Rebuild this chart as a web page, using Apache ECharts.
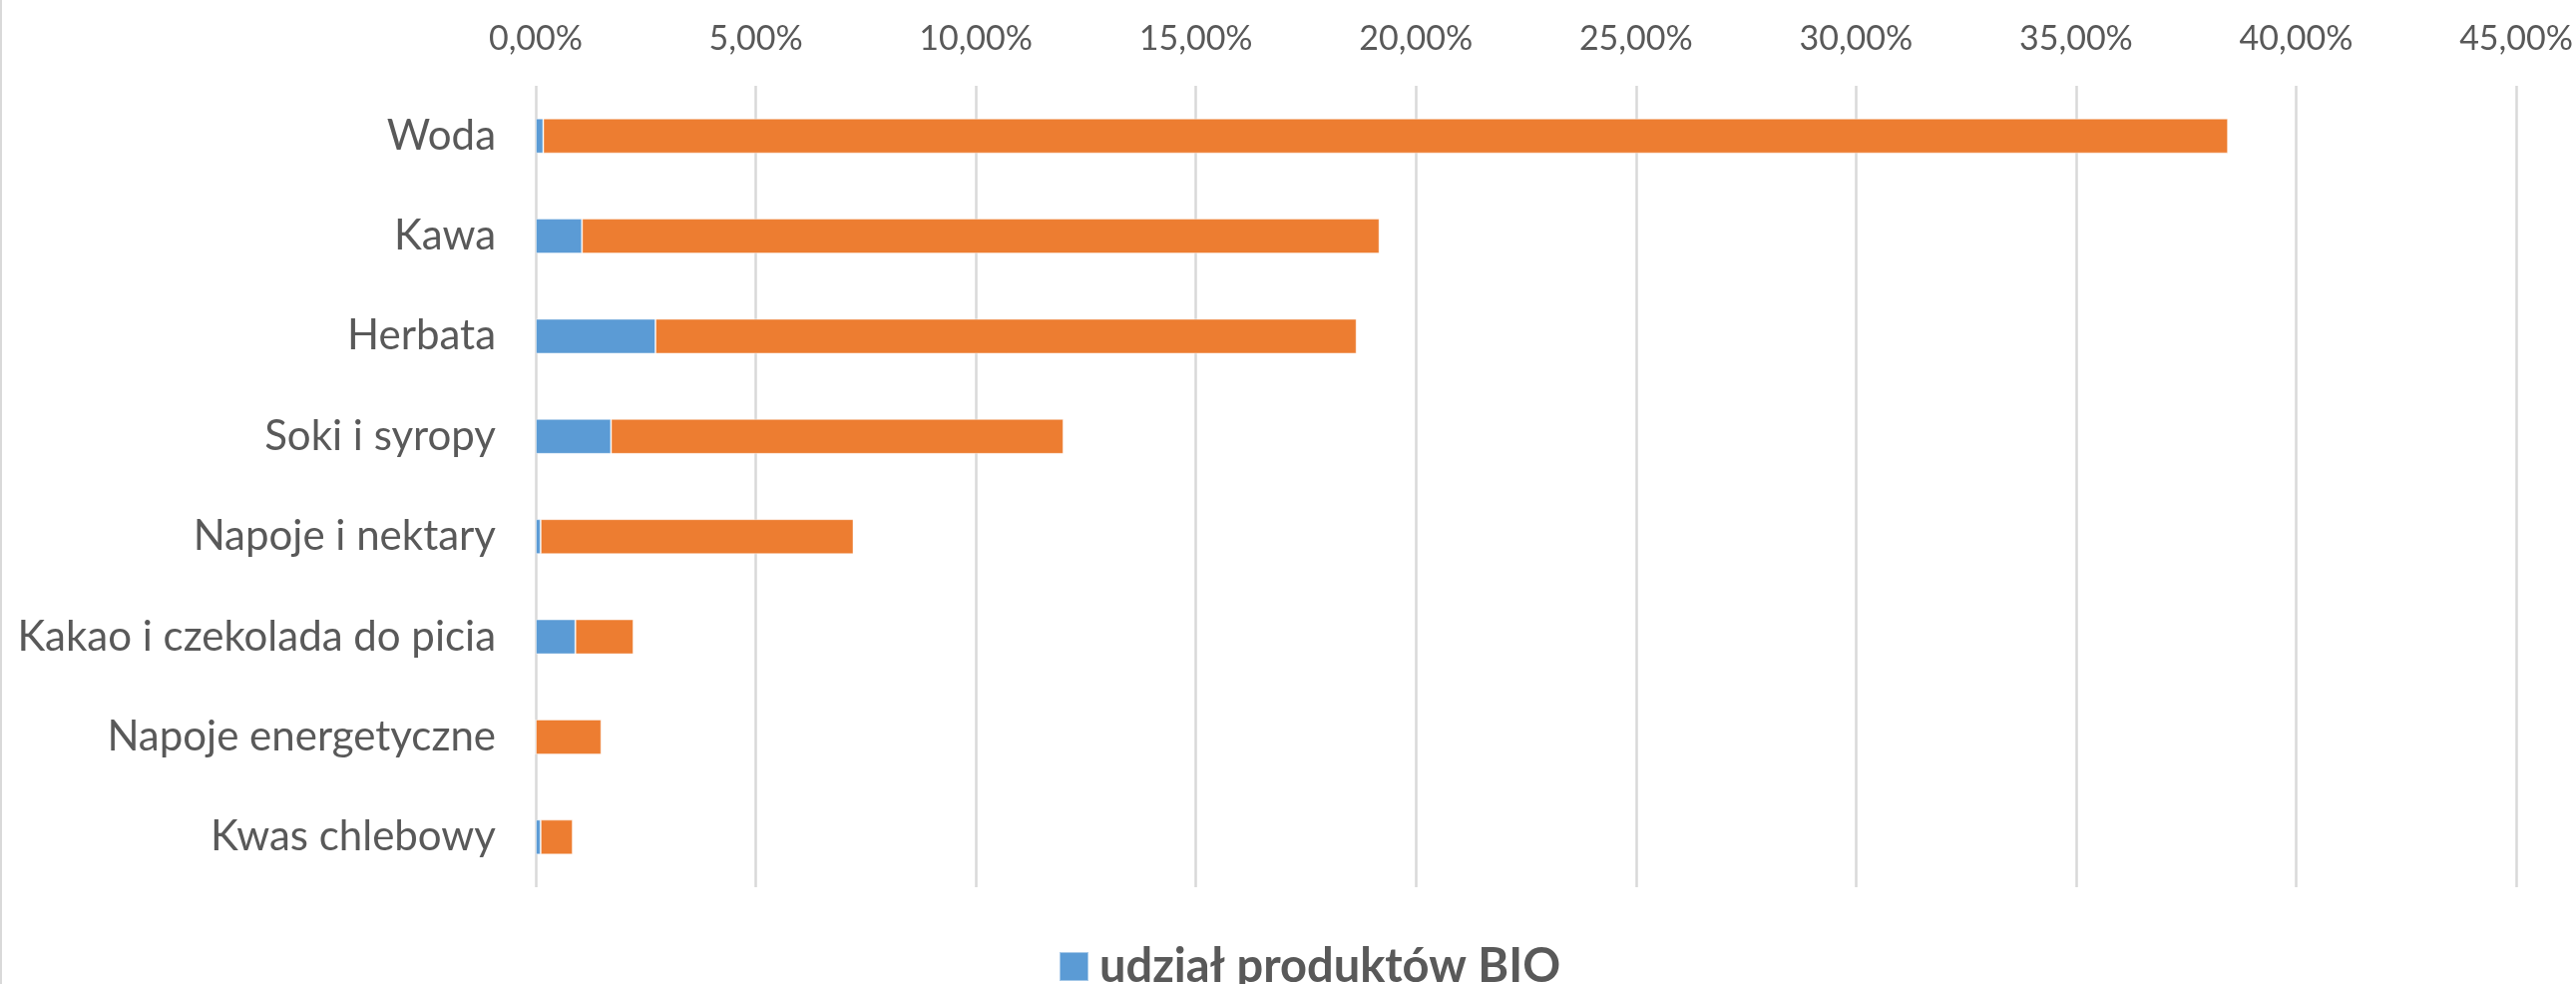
<!DOCTYPE html>
<html>
<head>
<meta charset="utf-8">
<script src="https://cdn.jsdelivr.net/npm/echarts@6/dist/echarts.min.js"></script>
<style>
  html, body { margin: 0; padding: 0; background: #fff; }
  #chart { width: 2582px; height: 986px; box-sizing: border-box; border-left: 2px solid #d9d9d9; }
</style>
</head>
<body>
<div id="chart"></div>
<script>
const categories = [
  "Woda",
  "Kawa",
  "Herbata",
  "Soki i syropy",
  "Napoje i nektary",
  "Kakao i czekolada do picia",
  "Napoje energetyczne",
  "Kwas chlebowy",
];
// udział produktów BIO (%)
const bioValues = [0.17, 1.05, 2.72, 1.71, 0.11, 0.9, 0, 0.11];
// pozostała część udziału (%)
const restValues = [38.28, 18.12, 15.93, 10.28, 7.11, 1.32, 1.49, 0.73];
const axisMax = 45;
const axisStep = 5;

const textColor = "#595959";
const font = "Lato, 'Open Sans', sans-serif";

const chart = echarts.init(document.getElementById("chart"));

function formatPct(value) {
  return value.toFixed(2).replace(".", ",") + "%";
}

chart.setOption({
  animation: false,
  grid: { left: 535, right: 53, top: 86, bottom: 97 },
  legend: {
    data: ["udział produktów BIO"],
    left: 1054,
    top: 940,
    itemWidth: 29,
    itemHeight: 29,
    icon: "rect",
    textStyle: { color: textColor, fontFamily: font, fontSize: 47, fontWeight: "bold", padding: [0, 0, 0, 6] },
  },
  xAxis: {
    type: "value",
    position: "top",
    min: 0,
    max: axisMax,
    interval: axisStep,
    axisLine: { show: false },
    axisTick: { show: false },
    axisLabel: {
      color: textColor,
      fontFamily: font,
      fontSize: 34,
      margin: 30,
      formatter: formatPct,
    },
    splitLine: { lineStyle: { color: "#d9d9d9", width: 2.5 } },
  },
  yAxis: {
    type: "category",
    data: categories,
    inverse: true,
    axisLine: { show: false },
    axisTick: { show: false },
    axisLabel: { color: textColor, fontFamily: font, fontSize: 42, margin: 40 },
  },
  series: [
    {
      name: "udział produktów BIO",
      type: "bar",
      stack: "total",
      barWidth: 35,
      data: bioValues,
      itemStyle: { color: "#5b9bd5", borderColor: "rgba(255,255,255,0.45)", borderWidth: 1 },
    },
    {
      name: "pozostałe",
      type: "bar",
      stack: "total",
      barWidth: 35,
      data: restValues,
      itemStyle: { color: "#ed7d31", borderColor: "rgba(255,255,255,0.45)", borderWidth: 1 },
    },
  ],
});
</script>
</body>
</html>
